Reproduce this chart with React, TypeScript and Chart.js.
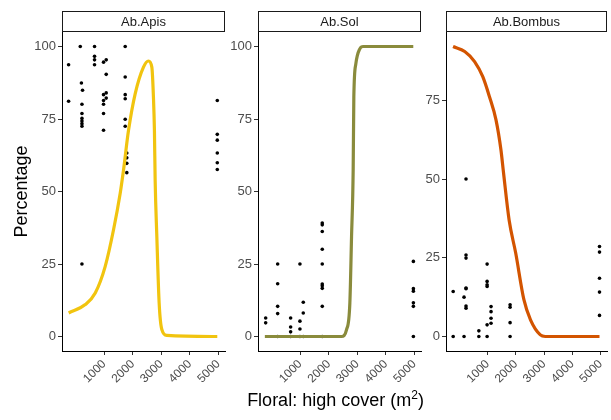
import React, { useEffect, useRef } from "react";
import { Chart, registerables } from "chart.js";

Chart.register(...registerables);

// ---------- data ----------
const xTicks = [1000, 2000, 3000, 4000, 5000];
const yTicksFull = [0, 25, 50, 75, 100];
const yTicksBombus = [0, 25, 50, 75];
const panelTitles = ["Ab.Apis", "Ab.Sol", "Ab.Bombus"];
const yTitle = "Percentage";

const apisPtsX = [-249, -249, 160, 200, 240, 219, 219, 219, 219, 219, 219, 219, 660, 660, 660, 660, 975, 975, 975, 975, 975, 975, 1069, 1069, 1069, 1069, 1734, 1734, 1734, 1734, 1734, 1734, 1790, 1790, 1790, 1790, 4960, 4960, 4960, 4960, 4960, 4960];
const apisPtsY = [93.7, 81.1, 100, 87.4, 84.9, 80.1, 76.9, 75.2, 74.3, 73.4, 72.5, 25, 100, 96.6, 95.4, 93.7, 94.6, 83.4, 81.4, 80.1, 76.9, 71.1, 95.4, 90.4, 84, 82.2, 100, 89.5, 83.4, 82, 74.9, 72.5, 63.3, 61.6, 59.7, 56.5, 81.4, 69.7, 67.7, 63.3, 59.9, 57.6];
const apisCurveX = [-245, 335, 685, 1034, 1325, 1559, 1675, 1849, 2083, 2374, 2548, 2667, 2723, 2758, 2783, 2842, 2923, 3017, 3192, 4960];
const apisCurveY = [8.1, 11, 15, 24.2, 36.8, 49.4, 57.4, 71, 83.7, 92.9, 95, 92.9, 82.6, 71, 54, 34.5, 11.6, 2.4, 0.4, 0];

const solPtsX = [-211, -211, 209, 209, 209, 209, 209, 663, 663, 663, 663, 989, 989, 989, 989, 1106, 1106, 1106, 1771, 1771, 1771, 1771, 1771, 1771, 1771, 1771, 1771, 1771, 4963, 4963, 4963, 4963, 4963, 4963];
const solPtsY = [6.4, 4.7, 25, 18.2, 10.4, 7.9, 0, 6.4, 3.3, 1.6, 0, 25, 5.3, 2.6, 0, 11.8, 8.1, 0, 39.1, 38.5, 36.2, 30.1, 25, 18.1, 17.5, 16.6, 10.4, 0, 25.9, 16.5, 15.6, 11.6, 10.4, 0];
const solCurveX = [-240, 2447, 2622, 2738, 2797, 2854, 2877, 2947, 3087, 3204, 4960];
const solCurveY = [0, 0, 2.4, 11.6, 34.5, 57.4, 82.6, 94, 99.2, 100, 100];

const bombusPtsX = [-225, -225, 160, 160, 230, 230, 230, 230, 230, 230, 230, 685, 685, 978, 978, 978, 978, 978, 978, 1118, 1118, 1118, 1118, 1793, 1793, 1793, 1793, 4964, 4964, 4964, 4964, 4964];
const bombusPtsY = [14.3, 0, 12.5, 0, 50, 25.9, 24.9, 15.4, 15.2, 9.7, 9.0, 1.8, 0, 23, 17.5, 16.4, 15.9, 3.7, 0, 9.5, 7.9, 5.8, 4.2, 10.1, 9.3, 4.4, 0, 28.6, 26.8, 18.5, 14.1, 6.7];
const bombusCurveX = [-230, 184, 534, 824, 1059, 1293, 1468, 1560, 1758, 1992, 2283, 2517, 2866, 3041, 4964];
const bombusCurveY = [92.1, 90.5, 87.3, 82.5, 76.2, 68.8, 59.3, 52, 37, 26.5, 11.7, 5.3, 0.5, 0, 0];

// ---------- layout / style ----------
const W = 611;
const H = 420;
const PLOT_TOP = 32;
const PLOT_BOTTOM = 351;
const STRIP_TOP = 11;
const X_MIN = -480;
const X_MAX = 5230;
const FONT = '"Liberation Sans", Arial, sans-serif';

const panels = [
  { title: panelTitles[0], px: apisPtsX, py: apisPtsY, cx: apisCurveX, cy: apisCurveY, color: "#F1C40F", left: 62, right: 225, yMin: -5, yMax: 105, yTicks: yTicksFull, axisW: 62, showTitle: true },
  { title: panelTitles[1], px: solPtsX, py: solPtsY, cx: solCurveX, cy: solCurveY, color: "#8A8B3C", left: 258, right: 421, yMin: -5, yMax: 105, yTicks: yTicksFull, axisW: 40, showTitle: false },
  { title: panelTitles[2], px: bombusPtsX, py: bombusPtsY, cx: bombusCurveX, cy: bombusCurveY, color: "#D35400", left: 446, right: 609, yMin: -4.6, yMax: 96.7, yTicks: yTicksBombus, axisW: 40, showTitle: false },
];

const stripPlugin = {
  id: "strip",
  afterDraw(chart: any, _args: any, opts: any) {
    const { ctx, chartArea } = chart;
    const x = Math.round(chartArea.left);
    const w = Math.round(chartArea.right) - x;
    const y = STRIP_TOP;
    const h = Math.round(chartArea.top) - y;
    ctx.save();
    ctx.fillStyle = "#ffffff";
    ctx.fillRect(x, y, w, h);
    ctx.strokeStyle = "#1a1a1a";
    ctx.lineWidth = 1;
    ctx.strokeRect(x + 0.5, y + 0.5, w - 1, h - 1);
    ctx.fillStyle = "#1a1a1a";
    ctx.font = `13px ${FONT}`;
    ctx.textAlign = "center";
    ctx.textBaseline = "middle";
    ctx.fillText(opts.text, x + w / 2, y + h / 2 + 0.5);
    ctx.restore();
  },
};

function Panel({ p }: { p: (typeof panels)[number] }) {
  const ref = useRef<HTMLCanvasElement | null>(null);
  useEffect(() => {
    if (!ref.current) return;
    const points = p.px.map((x, i) => ({ x, y: p.py[i] }));
    const curve = p.cx.map((x, i) => ({ x, y: p.cy[i] }));
    const chart = new Chart(ref.current, {
      type: "scatter",
      data: {
        datasets: [
          {
            data: curve,
            showLine: true,
            borderColor: p.color,
            borderWidth: 3.2,
            pointRadius: 0,
            cubicInterpolationMode: "monotone",
            fill: false,
          } as any,
          {
            data: points,
            backgroundColor: "#000000",
            borderWidth: 0,
            pointRadius: 1.8,
          },
        ],
      },
      options: {
        responsive: false,
        animation: false,
        events: [],
        layout: { padding: { left: p.left - p.axisW, right: W - p.right, top: PLOT_TOP, bottom: 0 } },
        plugins: {
          legend: { display: false },
          tooltip: { enabled: false },
          strip: { text: p.title },
        } as any,
        scales: {
          x: {
            type: "linear",
            min: X_MIN,
            max: X_MAX,
            afterBuildTicks: (s: any) => {
              s.ticks = xTicks.map((v) => ({ value: v }));
            },
            afterFit: (s: any) => {
              s.height = H - PLOT_BOTTOM;
              s.paddingLeft = 0;
              s.paddingRight = 0;
              s.paddingTop = 0;
              s.paddingBottom = 0;
            },
            grid: { display: true, drawOnChartArea: false, drawTicks: true, tickLength: 4, color: "#333333", tickWidth: 1 },
            border: { display: true, color: "#000000", width: 1 },
            ticks: {
              autoSkip: false,
              minRotation: 45,
              maxRotation: 45,
              padding: 2,
              color: "#4D4D4D",
              font: { size: 12, family: FONT },
              callback: (v: any) => String(v),
            },
          },
          y: {
            type: "linear",
            min: p.yMin,
            max: p.yMax,
            afterBuildTicks: (s: any) => {
              s.ticks = p.yTicks.map((v) => ({ value: v }));
            },
            afterFit: (s: any) => {
              s.width = p.axisW;
              s.paddingLeft = 0;
              s.paddingRight = 0;
              s.paddingTop = 0;
              s.paddingBottom = 0;
            },
            grid: { display: true, drawOnChartArea: false, drawTicks: true, tickLength: 4, color: "#333333", tickWidth: 1 },
            border: { display: true, color: "#000000", width: 1 },
            ticks: {
              padding: 2,
              color: "#4D4D4D",
              font: { size: 13, family: FONT },
              callback: (v: any) => String(v),
            },
            title: {
              display: p.showTitle,
              text: yTitle,
              color: "#000000",
              font: { size: 18, family: FONT },
              padding: { top: 11, bottom: 0 },
            },
          },
        },
      },
      plugins: [stripPlugin],
    });
    return () => chart.destroy();
  }, [p]);
  return (
    <canvas
      ref={ref}
      width={W}
      height={H}
      style={{ position: "absolute", left: 0, top: 0, width: W, height: H }}
    />
  );
}

export default function App() {
  return (
    <div style={{ position: "absolute", left: 0, top: 0, width: W, height: H, background: "#ffffff", overflow: "hidden" }}>
      {panels.map((p) => (
        <Panel key={p.title} p={p} />
      ))}
      <div
        style={{
          position: "absolute",
          left: 62,
          width: 547,
          top: 389,
          textAlign: "center",
          fontFamily: FONT,
          fontSize: 18,
          lineHeight: "22px",
          color: "#000000",
        }}
      >
        Floral: high cover (m<sup style={{ fontSize: 12, lineHeight: 0 }}>2</sup>)
      </div>
    </div>
  );
}
